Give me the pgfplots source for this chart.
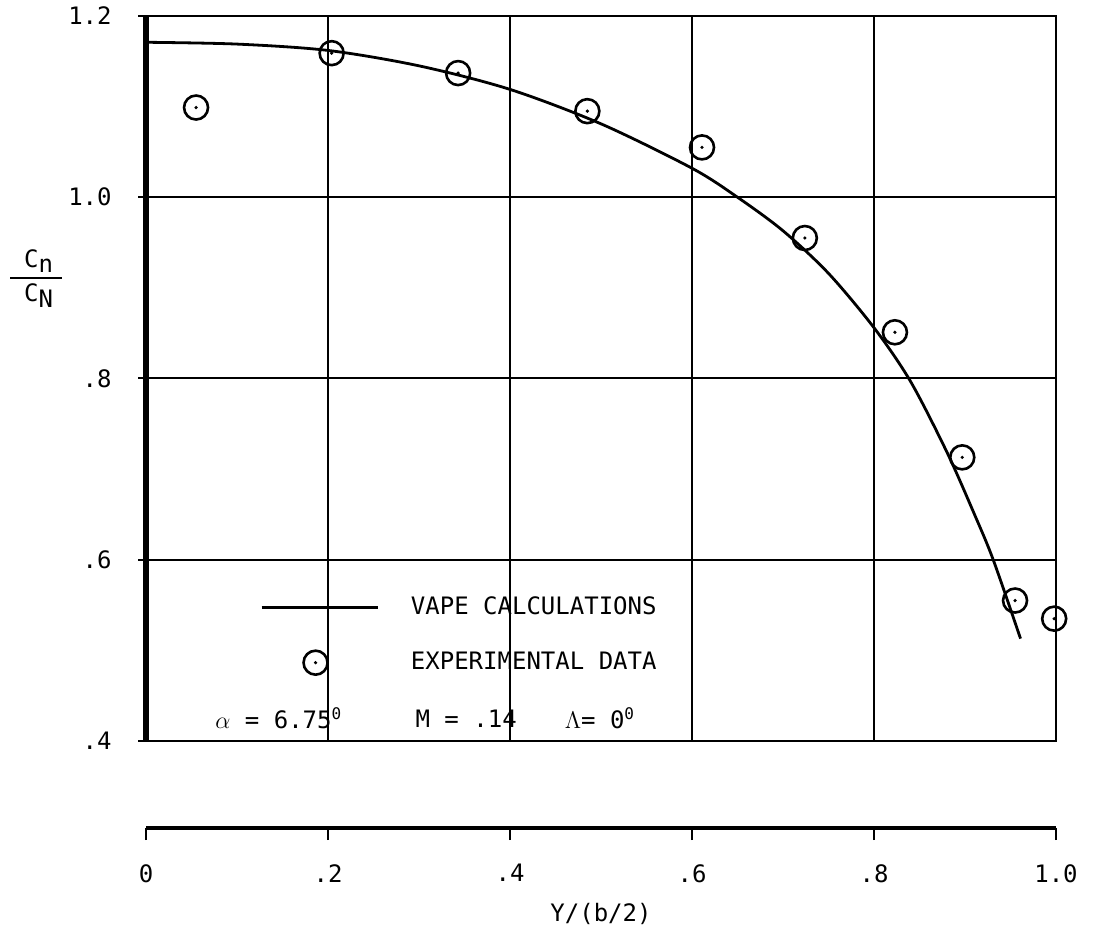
\documentclass[border=0pt]{standalone}
\usepackage{pgfplots}
\pgfplotsset{compat=1.18}
\usepackage{fontspec}
\setmainfont{DejaVu Sans Mono}

% circle with a centre dot, as used for the measured points
\pgfdeclareplotmark{odot}{%
  \pgfpathcircle{\pgfpointorigin}{\pgfplotmarksize}\pgfusepathqstroke
  \pgfpathcircle{\pgfpointorigin}{0.9pt}\pgfusepathqfill}

% long legend samples
\pgfplotsset{
  long line legend/.style={legend image code/.code={%
    \draw[#1] (0pt,0pt) -- (58pt,0pt);}},
  centred mark legend/.style={legend image code/.code={%
    \draw[#1,mark repeat=2,mark phase=2]
      plot coordinates {(0pt,0pt) (27pt,0pt) (54pt,0pt)};}},
}

\pgfplotstableread{
x      y
0.000  1.171
0.100  1.169
0.200  1.162
0.300  1.145
0.400  1.119
0.500  1.081
0.600  1.032
0.650  1.000
0.700  0.963
0.750  0.916
0.800  0.856
0.840  0.797
0.880  0.719
0.910  0.651
0.931  0.600
0.961  0.513
}\vape

\pgfplotstableread{
x      y
0.055  1.099
0.204  1.159
0.343  1.137
0.485  1.095
0.611  1.055
0.724  0.955
0.823  0.851
0.897  0.713
0.955  0.555
0.998  0.535
}\expdata

\begin{document}
\fontsize{12}{14}\selectfont
\begin{tikzpicture}
\path[use as bounding box] (-73pt,-98pt) rectangle (475pt,370.5pt);
\begin{axis}[
  scale only axis, width=455pt, height=362.5pt,
  xmin=0, xmax=1, ymin=0.4, ymax=1.2,
  clip=false,
  xtick={0,0.2,0.4,0.6,0.8,1.0}, xticklabels={},
  ytick={0.4,0.6,0.8,1.0,1.2}, yticklabels={.4,.6,.8,1.0,1.2},
  grid=major, major grid style={black, line width=1pt},
  axis line style={line width=1.3pt},
  xtick style={draw=none},
  ytick style={black, line width=1pt},
  ytick pos=left, tick align=outside, major tick length=4pt,
  yticklabel style={xshift=-9pt},
  legend style={at={(axis cs:0.125,0.517)}, anchor=west, draw=none,
    fill=none, inner sep=0pt, row sep=13pt,
    /tikz/every odd column/.append style={column sep=14pt}},
  legend cell align=left,
]
\addplot[black, line width=1.4pt, smooth, long line legend]
  table[x=x, y=y] {\vape};
\addlegendentry{VAPE CALCULATIONS}
\addplot[black, only marks, mark=odot, mark size=6pt,
  mark options={line width=1.3pt}, centred mark legend]
  table[x=x, y=y] {\expdata};
\addlegendentry{EXPERIMENTAL DATA}
\draw[line width=2.6pt] (rel axis cs:0,0) -- (rel axis cs:0,1);
\node[anchor=west] at (axis cs:0.067,0.425) {$\alpha$ = 6.75\textsuperscript{0}};
\node[anchor=west] at (axis cs:0.287,0.425) {M = .14};
\node[anchor=west] at (axis cs:0.451,0.425) {$\Lambda$= 0\textsuperscript{0}};
% ordinate label: c_n over C_N
\node[anchor=south, inner sep=0pt] at (axis cs:-0.118,0.916)
  {C\raisebox{-0.45ex}{n}};
\draw[line width=1.2pt] (axis cs:-0.149,0.911) -- (axis cs:-0.092,0.911);
\node[anchor=north, inner sep=0pt] at (axis cs:-0.118,0.905)
  {C\raisebox{-0.45ex}{N}};
\end{axis}
% separate abscissa scale below the chart
\begin{axis}[
  at={(0pt,-43.5pt)}, anchor=south west,
  scale only axis, width=455pt, height=10pt,
  xmin=0, xmax=1, ymin=0, ymax=1,
  axis y line=none, axis x line*=bottom,
  x axis line style={-, line width=2pt},
  xtick={0,0.2,0.4,0.6,0.8,1.0}, xticklabels={0,.2,.4,.6,.8,1.0},
  tick align=outside, major tick length=6pt,
  xtick style={black, line width=1.2pt},
  xticklabel style={yshift=-8pt},
  xlabel={Y/(b/2)},
  xlabel style={yshift=-2pt},
]
\end{axis}
\end{tikzpicture}
\end{document}
